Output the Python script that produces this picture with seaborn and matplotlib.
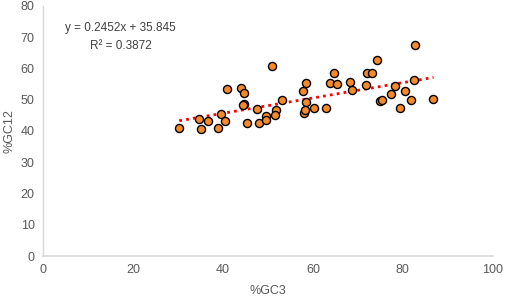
import numpy as np
import pandas as pd
import seaborn as sns
import matplotlib.pyplot as plt

# %GC3 vs %GC12 values
gc3 = [30.3, 34.7, 35.2, 36.6, 39.0, 39.5, 40.4, 40.9, 44.1, 44.7,
       44.6, 44.4, 45.4, 47.5, 48.0, 49.5, 49.5, 51.0, 51.7, 51.5,
       53.2, 57.9, 58.4, 58.5, 58.0, 58.2, 60.3, 63.0, 64.6, 63.9,
       65.4, 68.2, 68.7, 72.0, 73.2, 71.9, 74.2, 74.9, 75.3, 77.3,
       78.3, 79.3, 80.5, 81.9, 82.4, 82.8, 86.8]
gc12 = [40.9, 43.8, 40.7, 43.2, 40.8, 45.5, 43.1, 53.3, 53.6, 52.0,
        48.5, 48.3, 42.6, 46.9, 42.7, 44.8, 43.6, 60.9, 46.6, 45.2,
        49.9, 52.8, 55.4, 49.4, 45.6, 46.7, 47.3, 47.3, 58.7, 55.3,
        54.9, 55.8, 53.1, 58.4, 58.4, 54.7, 62.7, 49.7, 50.0, 51.9,
        54.4, 47.4, 52.9, 49.8, 56.3, 67.6, 50.1]

# trendline from the chart's equation
slope = 0.2452
intercept = 35.845
r2 = 0.3872

df = pd.DataFrame({'GC3': gc3, 'GC12': gc12})

sns.set_style('white')
plt.rcParams['font.family'] = ['Liberation Sans', 'DejaVu Sans']

fig = plt.figure(figsize=(5.05, 2.97), dpi=100)
ax = fig.add_axes([0.085, 0.138, 0.891, 0.842])

# trendline
xs = np.array([min(gc3), max(gc3)])
ax.plot(xs, slope * xs + intercept, color='#ff0000', linestyle=(0, (1, 1.5)),
        linewidth=2, zorder=1)

sns.scatterplot(x='GC3', y='GC12', data=df, ax=ax, color='#f58a2a',
                edgecolor='black', linewidth=1, s=34, zorder=2)

ax.text(17.3, 70.0, f'y = {slope}x + {intercept}\nR² = {r2}', ha='center',
        va='center', fontsize=8.5, color='#404040', linespacing=1.6)

ax.set_xlim(0, 100)
ax.set_ylim(0, 80)
ax.set_xticks(range(0, 101, 20))
ax.set_yticks(range(0, 81, 10))
ax.tick_params(labelsize=9, colors='#595959', length=0, pad=6)

ax.set_xlabel('%GC3', fontsize=9, color='#595959', labelpad=6)
ax.set_ylabel('%GC12', fontsize=9, color='#595959', labelpad=4)

sns.despine(ax=ax)
ax.spines['left'].set_color('#d9d9d9')
ax.spines['bottom'].set_color('#d9d9d9')
ax.spines['left'].set_linewidth(1)
ax.spines['bottom'].set_linewidth(1.2)

plt.savefig('out.png', dpi=100)
